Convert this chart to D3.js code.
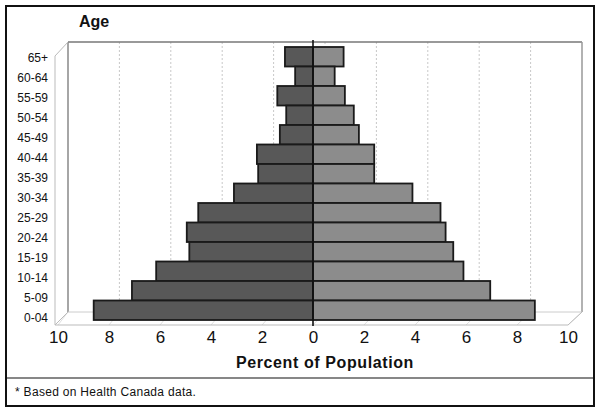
<!DOCTYPE html>
<html><head><meta charset="utf-8">
<script src="https://cdn.jsdelivr.net/npm/d3@7"></script>
<style>body{margin:0;background:#fff}svg{display:block;font-family:"Liberation Sans",Arial,sans-serif}</style>
</head><body><svg id="c" width="602" height="413"></svg>
<script>
const ages = ["65+","60-64","55-59","50-54","45-49","40-44","35-39","30-34","25-29","20-24","15-19","10-14","5-09","0-04"];
const male = [1.1,0.7,1.4,1.05,1.3,2.2,2.15,3.1,4.5,4.95,4.85,6.15,7.1,8.6];
const female = [1.2,0.85,1.25,1.6,1.8,2.4,2.4,3.9,5.0,5.2,5.5,5.9,6.95,8.7];
const ticks = [-10,-8,-6,-4,-2,0,2,4,6,8,10];

const svg = d3.select("#c");
const x = d3.scaleLinear().domain([-10,10]).range([58,568]);
const xBack = d3.scaleLinear().domain([-10,10]).range([68,582]);
const yBar = d3.scaleBand().domain(ages).range([47,320]).padding(0);
const yLab = d3.scaleBand().domain(ages).range([48,328]).padding(0);

// outer frame
svg.append("rect").attr("x",6).attr("y",6).attr("width",588).attr("height",400)
  .attr("fill","none").attr("stroke","#111").attr("stroke-width",2);
svg.append("line").attr("x1",6).attr("x2",594).attr("y1",378).attr("y2",378).attr("stroke","#111").attr("stroke-width",1.2);

// 3D box
const bx0 = 68, bx1 = 582, by0 = 42, by1 = 312, fx0 = 55, fx1 = 568, fy1 = 325, fy0 = 56;
const g = svg.append("g");
g.selectAll("line.grid").data(ticks.filter(t=>t>-10 && t<10)).join("line")
  .attr("x1",d=>xBack(d)).attr("x2",d=>xBack(d)).attr("y1",by0).attr("y2",by1)
  .attr("stroke","#c8c8c8").attr("stroke-dasharray","2,2").attr("stroke-width",1);
g.selectAll("line.fl").data(ticks).join("line")
  .attr("x1",d=>x(d)).attr("x2",d=>xBack(d)).attr("y1",fy1).attr("y2",by1)
  .attr("stroke","#e0e0e0").attr("stroke-width",1);
g.append("line").attr("x1",bx0).attr("x2",bx1).attr("y1",by0).attr("y2",by0).attr("stroke","#777").attr("stroke-width",1.5);
g.append("line").attr("x1",bx0).attr("x2",bx0).attr("y1",by0).attr("y2",by1).attr("stroke","#888").attr("stroke-width",1.5);
g.append("line").attr("x1",bx1).attr("x2",bx1).attr("y1",by0).attr("y2",by1).attr("stroke","#999").attr("stroke-width",1.5);
g.append("line").attr("x1",bx0).attr("x2",bx1).attr("y1",by1).attr("y2",by1).attr("stroke","#ccc").attr("stroke-width",1);
g.append("line").attr("x1",fx0).attr("x2",fx0).attr("y1",fy0).attr("y2",fy1).attr("stroke","#bbb").attr("stroke-width",1);
g.append("line").attr("x1",fx0).attr("x2",bx0).attr("y1",fy0).attr("y2",by0).attr("stroke","#bbb").attr("stroke-width",1);
g.append("line").attr("x1",fx0).attr("x2",bx0).attr("y1",fy1).attr("y2",by1).attr("stroke","#bbb").attr("stroke-width",1);
g.append("line").attr("x1",fx0).attr("x2",fx1).attr("y1",fy1).attr("y2",fy1).attr("stroke","#bbb").attr("stroke-width",1);
g.append("line").attr("x1",fx1).attr("x2",bx1).attr("y1",fy1).attr("y2",by1).attr("stroke","#bbb").attr("stroke-width",1);

// bars
svg.append("g").selectAll("rect").data(ages).join("rect")
  .attr("x",(d,i)=>x(-male[i])).attr("width",(d,i)=>x(0)-x(-male[i]))
  .attr("y",d=>yBar(d)).attr("height",yBar.bandwidth())
  .attr("fill","#585858").attr("stroke","#1a1a1a").attr("stroke-width",1.8);
svg.append("g").selectAll("rect").data(ages).join("rect")
  .attr("x",x(0)).attr("width",(d,i)=>x(female[i])-x(0))
  .attr("y",d=>yBar(d)).attr("height",yBar.bandwidth())
  .attr("fill","#8c8c8c").attr("stroke","#1a1a1a").attr("stroke-width",1.8);
svg.append("line").attr("x1",x(0)).attr("x2",x(0)).attr("y1",40).attr("y2",326)
  .attr("stroke","#111").attr("stroke-width",1.6);

// y axis labels
const ya = svg.append("g").attr("transform","translate(48,0)")
  .call(d3.axisLeft(yLab).tickSize(0).tickPadding(0));
ya.select(".domain").remove();
ya.selectAll("text").attr("font-size",12).attr("fill","#111").attr("font-family","Liberation Sans, Arial, sans-serif");

// x axis labels
const xa = svg.append("g").attr("transform","translate(0,331)")
  .call(d3.axisBottom(x).tickValues(ticks).tickSize(0).tickPadding(0).tickFormat(d=>Math.abs(d)));
xa.select(".domain").remove();
xa.selectAll("text").attr("font-size",17).attr("fill","#111").attr("font-family","Liberation Sans, Arial, sans-serif");

// titles
svg.append("text").attr("x",79).attr("y",27).attr("font-size",16).attr("font-weight","bold").attr("fill","#111").text("Age");
svg.append("text").attr("x",325).attr("y",368).attr("text-anchor","middle").attr("font-size",16).attr("letter-spacing",0.6).attr("font-weight","bold").attr("fill","#111").text("Percent of Population");
svg.append("text").attr("x",15).attr("y",396).attr("font-size",12).attr("letter-spacing",0.3).attr("fill","#111").text("* Based on Health Canada data.");
</script></body></html>
